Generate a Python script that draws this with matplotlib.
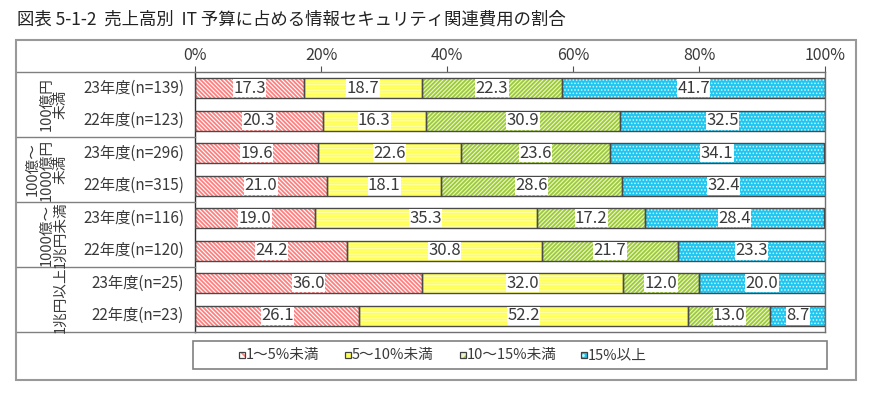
import matplotlib
matplotlib.use('Agg')
import matplotlib.pyplot as plt
from matplotlib.patches import Rectangle
from matplotlib.lines import Line2D

plt.rcParams['font.family'] = ['Noto Sans CJK JP', 'DejaVu Sans']
plt.rcParams['hatch.linewidth'] = 1.3

title = "図表 5-1-2  売上高別  IT 予算に占める情報セキュリティ関連費用の割合"
categories = ["1～5%未満", "5～10%未満", "10～15%未満", "15%以上"]
row_labels = ["23年度(n=139)", "22年度(n=123)", "23年度(n=296)", "22年度(n=315)",
              "23年度(n=116)", "22年度(n=120)", "23年度(n=25)", "22年度(n=23)"]
group_labels = ["100億円\n未満", "100億～\n1000億円\n未満", "1000億～\n1兆円未満", "1兆円以上"]
s1 = [17.3, 20.3, 19.6, 21.0, 19.0, 24.2, 36.0, 26.1]
s2 = [18.7, 16.3, 22.6, 18.1, 35.3, 30.8, 32.0, 52.2]
s3 = [22.3, 30.9, 23.6, 28.6, 17.2, 21.7, 12.0, 13.0]
s4 = [41.7, 32.5, 34.1, 32.4, 28.4, 23.3, 20.0, 8.7]
tick_values = [0, 20, 40, 60, 80, 100]
tick_labels = ["0%", "20%", "40%", "60%", "80%", "100%"]

series = [s1, s2, s3, s4]
styles = [
    dict(face='white', hatch='\\' * 8, hc='#FF7E7E', hlw=1.3),
    dict(face='#FFFF55', hatch='-' * 6, hc='#FFFFA8', hlw=0.8),
    dict(face='#EAF5CF', hatch='/' * 8, hc='#9CCB34', hlw=1.3),
    dict(face='#1EC6F0', hatch='.' * 5, hc='#D8F6FF', hlw=0.7),
]
TXT = '#3a3a3a'
W, H = 875, 394


def fx(px):
    return px / W


def fy(py):
    return 1 - py / H


def set_hlw(patches, lw):
    for p in patches:
        if hasattr(p, 'set_hatch_linewidth'):
            p.set_hatch_linewidth(lw)


fig = plt.figure(figsize=(W / 100, H / 100), dpi=100)

ax = fig.add_axes([fx(195), fy(332), (825 - 195) / W, (332 - 72) / H])
n = len(row_labels)
ypos = list(range(n))
left = [0.0] * n
for vals, st in zip(series, styles):
    with plt.rc_context({'hatch.linewidth': st['hlw']}):
        bars = ax.barh(ypos, vals, left=left, height=0.62, color=st['face'], hatch=st['hatch'],
                       edgecolor=st['hc'], linewidth=0, zorder=2)
    set_hlw(bars, st['hlw'])
    ax.barh(ypos, vals, left=left, height=0.62, fill=False, edgecolor='#4a4a4a',
            linewidth=1.0, zorder=3)
    for y, v, l in zip(ypos, vals, left):
        ax.text(l + v / 2, y, f"{v:.1f}", ha='center', va='center', fontsize=12,
                color=TXT, zorder=4,
                bbox=dict(boxstyle='square,pad=0.02', facecolor='white', edgecolor='none'))
    left = [a + b for a, b in zip(left, vals)]

ax.set_xlim(0, 100)
ax.set_ylim(n - 0.5, -0.5)
ax.set_yticks([])
ax.xaxis.tick_top()
ax.set_xticks(tick_values)
ax.set_xticklabels(tick_labels, fontsize=11.5, color=TXT)
ax.tick_params(axis='x', direction='out', length=4, pad=1.5, color='#505050')
for name, sp in ax.spines.items():
    sp.set_color('#707070')
    sp.set_linewidth(1.0)
ax.spines['left'].set_color('#303030')

# row labels
for i, lab in enumerate(row_labels):
    py = 72 + (i + 0.5) * 32.5
    fig.text(fx(184), fy(py), lab, ha='right', va='center', fontsize=11, color=TXT)

# group labels
for g, lab in enumerate(group_labels):
    py = 72 + (g + 0.5) * 65
    fig.text(fx(67), fy(py), lab, ha='right', va='center', rotation=90,
             multialignment='center', fontsize=10.5, color=TXT, linespacing=0.95)

# frame lines
lc = '#808080'
for py in [72, 137, 202, 267, 332]:
    fig.add_artist(Line2D([fx(17), fx(195)], [fy(py), fy(py)], color=lc, lw=1.0))
fig.add_artist(Rectangle((fx(16), fy(380)), (856 - 16) / W, (380 - 40) / H,
                         transform=fig.transFigure, fill=False, edgecolor='#999999', lw=1.5))

# legend
fig.add_artist(Rectangle((fx(193), fy(369)), (827 - 193) / W, (369 - 341) / H,
                         transform=fig.transFigure, fill=False, edgecolor='#808080', lw=1.2))
leg_x = [242, 348, 463, 584]
for x0, cat, st in zip(leg_x, categories, styles):
    r = Rectangle((fx(x0 - 3), fy(358)), 6 / W, 6 / H, transform=fig.transFigure,
                  facecolor=st['face'], hatch=st['hatch'][:3], edgecolor=st['hc'], lw=0)
    fig.add_artist(r)
    fig.add_artist(Rectangle((fx(x0 - 3), fy(358)), 6 / W, 6 / H, transform=fig.transFigure,
                             fill=False, edgecolor='#404040', lw=0.9))
    fig.text(fx(x0 + 4), fy(355), cat, ha='left', va='center', fontsize=10.5, color=TXT)

fig.text(fx(17), fy(20), title, ha='left', va='center', fontsize=12.5, color='#222222')

fig.savefig('out.png', dpi=100)
